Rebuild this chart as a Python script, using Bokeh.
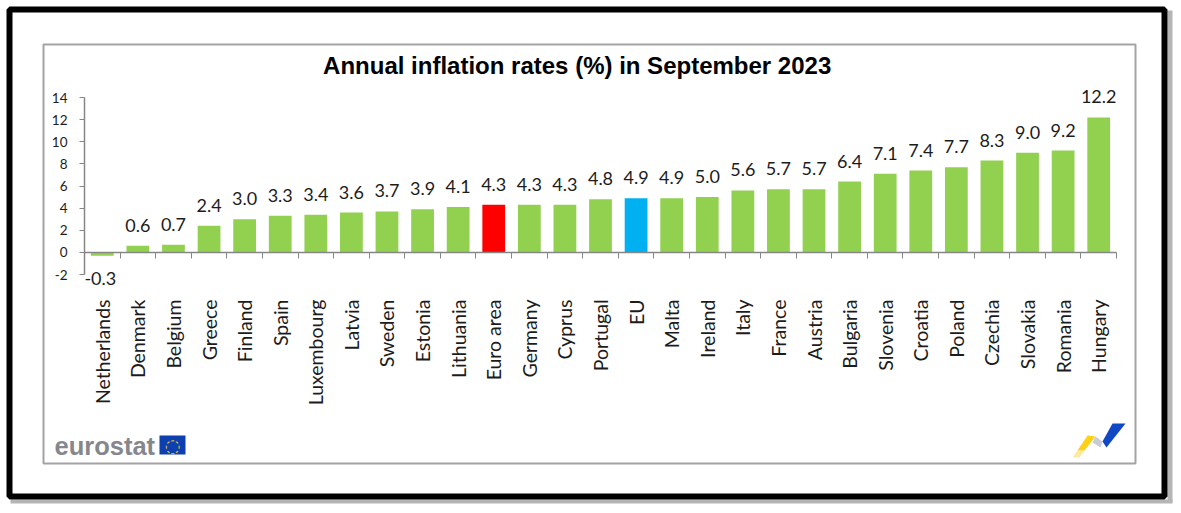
import math
from bokeh.plotting import figure
from bokeh.models import (BoxAnnotation, PolyAnnotation, Label, LinearAxis, FixedTicker,
                          ColumnDataSource, Range1d)
from bokeh.core.properties import value
from bokeh.embed import file_html
from bokeh.resources import INLINE

categories = ["Netherlands", "Denmark", "Belgium", "Greece", "Finland", "Spain", "Luxembourg",
              "Latvia", "Sweden", "Estonia", "Lithuania", "Euro area", "Germany", "Cyprus",
              "Portugal", "EU", "Malta", "Ireland", "Italy", "France", "Austria", "Bulgaria",
              "Slovenia", "Croatia", "Poland", "Czechia", "Slovakia", "Romania", "Hungary"]
rates = [-0.3, 0.6, 0.7, 2.4, 3.0, 3.3, 3.4, 3.6, 3.7, 3.9, 4.1, 4.3, 4.3, 4.3, 4.8, 4.9, 4.9,
         5.0, 5.6, 5.7, 5.7, 6.4, 7.1, 7.4, 7.7, 8.3, 9.0, 9.2, 12.2]
y_ticks = [-2, 0, 2, 4, 6, 8, 10, 12, 14]
GREEN, RED, BLUE = "#92D050", "#FF0000", "#00B0F0"
highlight = {"Euro area": RED, "EU": BLUE}

colors = [highlight.get(c, GREEN) for c in categories]
centers = [i + 0.5 for i in range(len(categories))]
labels = [f"{v:.1f}" for v in rates]
src = ColumnDataSource(dict(x=centers, top=rates, color=colors))
pos = ColumnDataSource(dict(x=[c for c, v in zip(centers, rates) if v >= 0],
                            y=[v for v in rates if v >= 0],
                            t=[l for l, v in zip(labels, rates) if v >= 0]))
neg = ColumnDataSource(dict(x=[c for c, v in zip(centers, rates) if v < 0],
                            y=[v for v in rates if v < 0],
                            t=[l for l, v in zip(labels, rates) if v < 0]))

# The plot frame fills the whole canvas so that the outer panel, title and logos can be drawn.
W, H = 1175, 505
AX_L, AX_T, AX_W, AX_H = 84, 97, 1032, 177     # pixel box of the chart area
n = len(categories)
sx = AX_W / n
sy = AX_H / (y_ticks[-1] - y_ticks[0])

p = figure(width=W, height=H, output_backend="svg", toolbar_location=None,
           x_range=Range1d(-AX_L / sx, (W - AX_L) / sx),
           y_range=Range1d(y_ticks[-1] - (H - AX_T) / sy, y_ticks[-1] + AX_T / sy),
           frame_width=W, frame_height=H,
           min_border_left=0, min_border_top=0, min_border_right=0, min_border_bottom=0,
           x_axis_type=None, y_axis_type=None,
           background_fill_color="white", border_fill_color="white")
p.outline_line_color = None
p.grid.visible = False

AXIS = "#868686"
TXT = "#1c1c1c"

def box(l, t, r, b, **kw):
    p.add_layout(BoxAnnotation(left=l, right=r, top=H - t, bottom=H - b,
                               left_units="screen", right_units="screen",
                               top_units="screen", bottom_units="screen",
                               level="underlay", line_alpha=1, **kw))

box(1167, 10, 1172, 502, fill_color="#b5b5b5", fill_alpha=1, line_color=None)
box(10, 499, 1172, 503, fill_color="#b5b5b5", fill_alpha=1, line_color=None)
box(9, 9, 1164, 496, fill_color="white", fill_alpha=1, line_color="black", line_width=6)
box(43, 44, 1135, 463, fill_color=None, fill_alpha=0, line_color="#a3a3a3", line_width=2)

p.vbar(x="x", top="top", bottom=0, width=0.64, fill_color="color", line_color=None, source=src)
p.text(x="x", y="y", text="t", source=pos, text_align="center", text_baseline="bottom",
       y_offset=-14, text_font=value("Lato"), text_font_size="18px", text_color=TXT)
p.text(x="x", y="y", text="t", source=neg, text_align="center", text_baseline="top",
       y_offset=16, x_offset=-2, text_font=value("Lato"), text_font_size="18px", text_color=TXT)

ya = LinearAxis(fixed_location=0, ticker=FixedTicker(ticks=y_ticks),
                bounds=(y_ticks[0], y_ticks[-1]))
ya.major_label_overrides = {t: str(t) for t in y_ticks}
ya.major_tick_in, ya.major_tick_out = 0, 5
ya.minor_tick_line_color = None
ya.axis_line_color = AXIS
ya.axis_line_width = 1.5
ya.major_tick_line_color = AXIS
ya.major_label_standoff = 12
ya.major_label_text_font = "Lato"
ya.major_label_text_font_size = "13.5px"
ya.major_label_text_color = TXT
p.add_layout(ya, "left")

xa = LinearAxis(fixed_location=y_ticks[0], ticker=FixedTicker(ticks=centers))
xa.major_label_overrides = dict(zip(centers, categories))
xa.major_label_orientation = math.pi / 2
xa.axis_line_color = None
xa.major_tick_line_color = None
xa.minor_tick_line_color = None
xa.major_tick_in = xa.major_tick_out = 0
xa.major_label_standoff = 25
xa.major_label_text_font = "Lato"
xa.major_label_text_font_size = "19.5px"
xa.major_label_text_color = TXT
p.add_layout(xa, "below")

zero = LinearAxis(fixed_location=0, ticker=FixedTicker(ticks=list(range(n + 1))), bounds=(0, n))
zero.major_label_text_font_size = "0px"
zero.major_label_text_color = None
zero.major_tick_in, zero.major_tick_out = 0, 6
zero.minor_tick_line_color = None
zero.axis_line_color = AXIS
zero.axis_line_width = 1.5
zero.major_tick_line_color = AXIS
p.add_layout(zero, "below")

def label(x, y, text, **kw):
    p.add_layout(Label(x=x, y=H - y, x_units="screen", y_units="screen", text=text,
                       text_baseline="middle", **kw))

label(580, 65, "Annual inflation rates (%)  in September 2023", text_align="center",
      text_font="Liberation Sans", text_font_style="bold", text_font_size="24px",
      text_color="#000000")
label(54, 445, "eurostat", text_align="left", text_font="Liberation Sans",
      text_font_style="bold", text_font_size="25.5px", text_color="#85878d")
box(159, 435, 185, 454, fill_color="#0d3fae", fill_alpha=1, line_color=None)
label(172, 444.5, "\u25cc", text_align="center", text_font="DejaVu Sans",
      text_font_size="18px", text_color="#d8c24a")

def poly(pts, color):
    p.add_layout(PolyAnnotation(xs=[a for a, _ in pts], ys=[H - b for _, b in pts],
                                xs_units="screen", ys_units="screen",
                                fill_color=color, fill_alpha=1, line_color=None))

poly([(1072, 457), (1077, 450), (1084, 450), (1079, 457)], "#fde9a0")
poly([(1077, 450), (1087, 435), (1095, 436), (1084, 450)], "#fcd116")
poly([(1095, 436), (1102, 441), (1100, 447), (1092, 442)], "#c9ccd6")
poly([(1102, 441), (1112, 423), (1125, 423), (1106, 447)], "#0f47c4")

open("out.html", "w").write(file_html(p, INLINE))
